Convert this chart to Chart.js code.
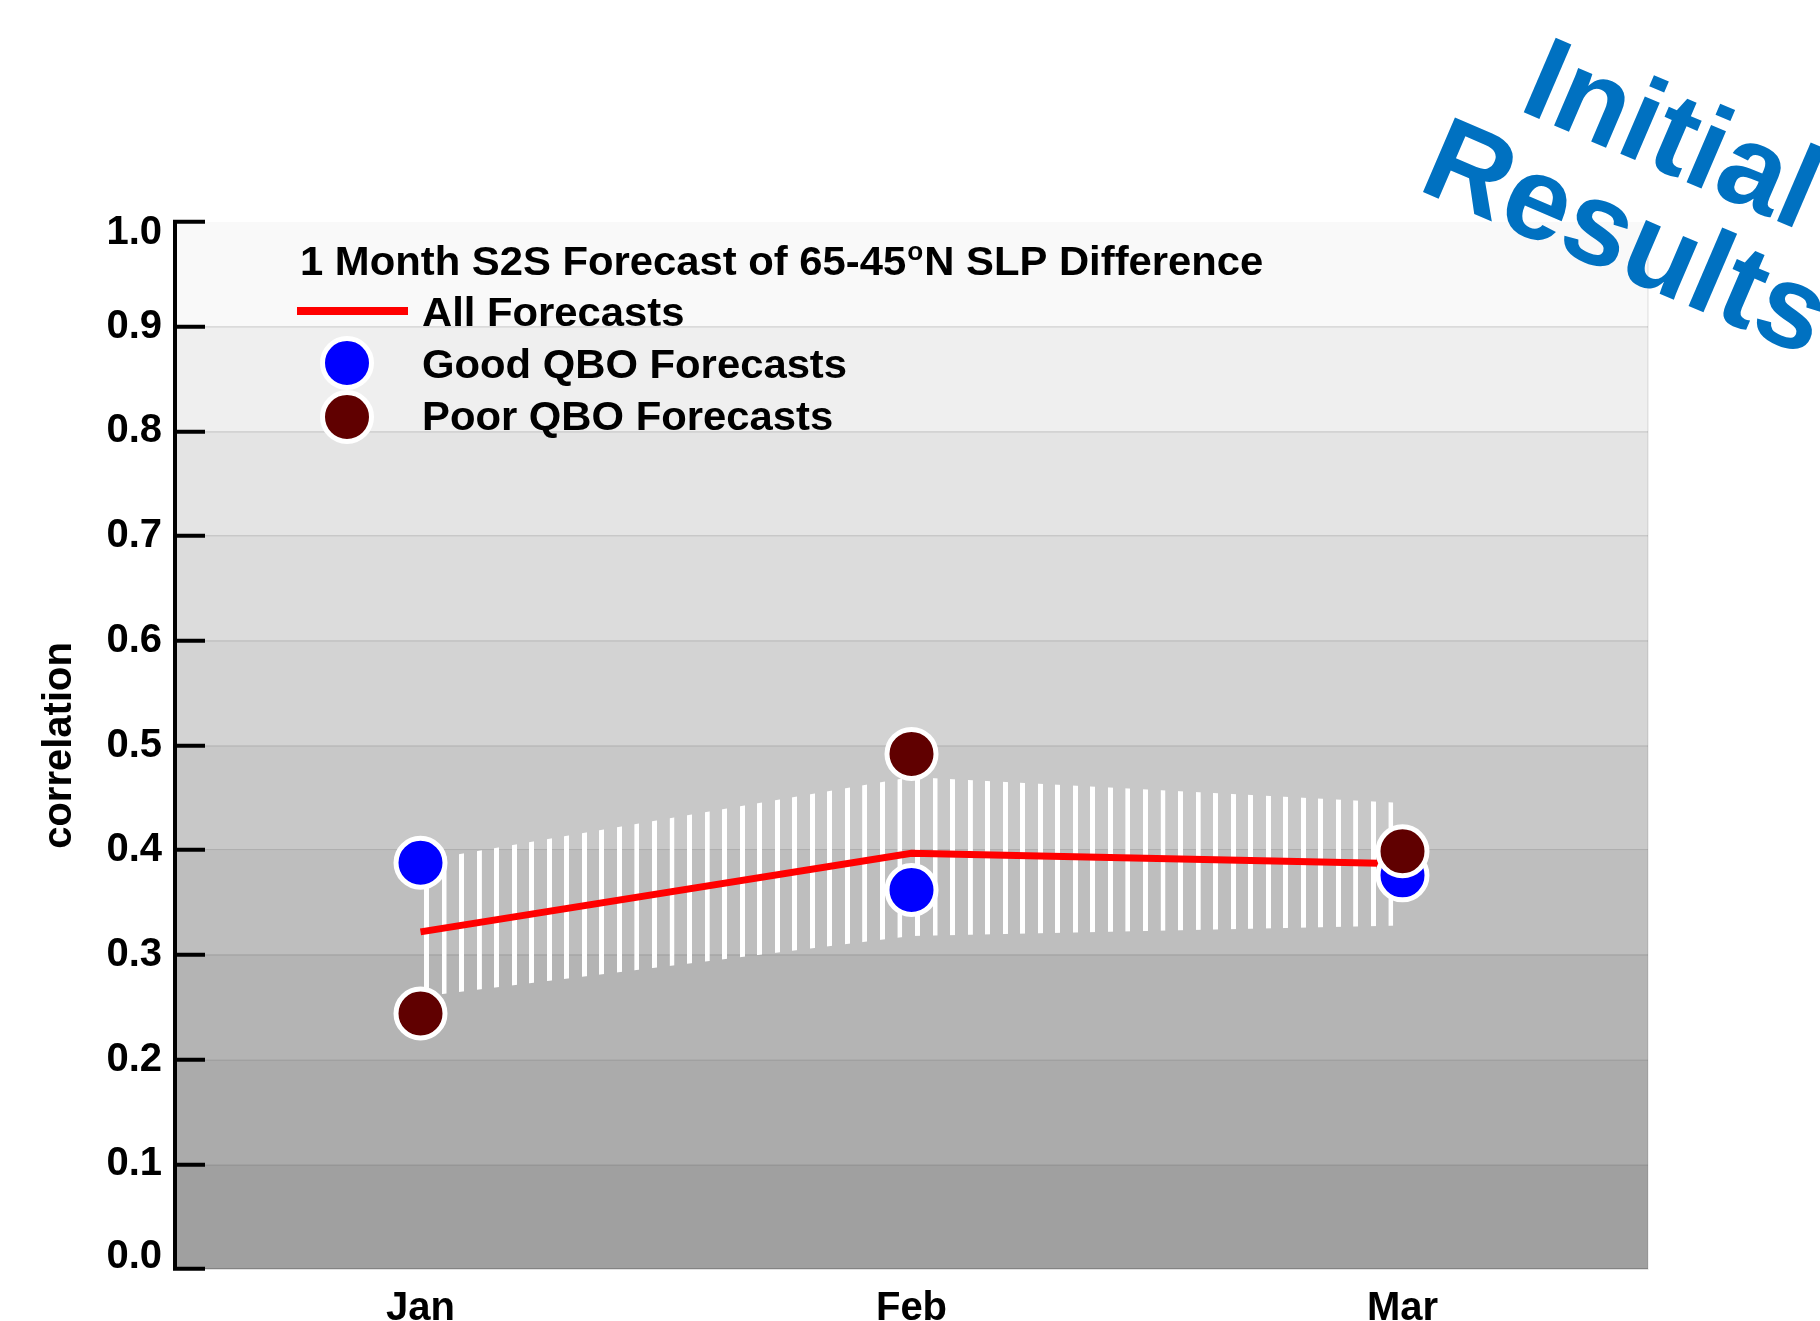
<!DOCTYPE html>
<html>
<head>
<meta charset="utf-8">
<script src="https://cdn.jsdelivr.net/npm/chart.js@4/dist/chart.umd.min.js"></script>
<style>
  html, body { margin: 0; padding: 0; background: #ffffff; }
  #wrap { width: 1820px; height: 1321px; position: relative; }
</style>
</head>
<body>
<div id="wrap"><canvas id="c"></canvas></div>
<script>
// ---------------- data ----------------
const categories   = ['Jan', 'Feb', 'Mar'];
const allForecasts = [0.322, 0.397, 0.387];
const goodQBO      = [0.388, 0.362, 0.376];
const poorQBO      = [0.244, 0.492, 0.399];
const rangeUpper   = [0.390, 0.470, 0.445];
const rangeLower   = [0.260, 0.318, 0.328];
const yTickValues  = [0.0, 0.1, 0.2, 0.3, 0.4, 0.5, 0.6, 0.7, 0.8, 0.9, 1.0];
const yTickLabels  = ['0.0', '0.1', '0.2', '0.3', '0.4', '0.5', '0.6', '0.7', '0.8', '0.9', '1.0'];
const bandGrays    = [160, 171, 180, 190, 200, 211, 220, 228, 239, 249];
const titleParts   = ['1 Month S2S Forecast of 65-45', 'o', 'N SLP Difference'];
const legendLabels = ['All Forecasts', 'Good QBO Forecasts', 'Poor QBO Forecasts'];
const yAxisTitle   = 'correlation';
const watermark    = ['Initial', 'Results'];

// ---------------- styles ----------------
const FONT = '"Liberation Sans", Arial, Helvetica, sans-serif';
const STRIPES_PER_MONTH = 28;
const STRIPE_SHIFT = 6;
const PAT_W = 100;

const patCanvas = document.createElement('canvas');
patCanvas.width = PAT_W; patCanvas.height = 4;
const pctx = patCanvas.getContext('2d');
pctx.fillStyle = '#ffffff';
pctx.fillRect(PAT_W / 2 - 14, 0, 28, 4);
const canvas = document.getElementById('c');
const stripePattern = canvas.getContext('2d').createPattern(patCanvas, 'repeat');

function stretchedText(ctx, text, x, y, sx) {
  ctx.save();
  ctx.translate(x, y);
  ctx.scale(sx, 1);
  ctx.fillText(text, 0, 0);
  const w = ctx.measureText(text).width * sx;
  ctx.restore();
  return w;
}

const decor = {
  id: 'decor',
  afterLayout(chart) {
    const xs = chart.scales.x;
    const x0 = xs.getPixelForValue(0);
    const step = (xs.getPixelForValue(1) - x0) / STRIPES_PER_MONTH;
    const s = step / PAT_W;
    stripePattern.setTransform(new DOMMatrix([s, 0, 0, 1, x0 + STRIPE_SHIFT - (PAT_W / 2) * s, 0]));
  },
  beforeDraw(chart) {
    const { ctx, chartArea: a, scales: { y } } = chart;
    ctx.save();
    bandGrays.forEach((g, i) => {
      const top = y.getPixelForValue(yTickValues[i + 1]);
      const bot = y.getPixelForValue(yTickValues[i]);
      ctx.fillStyle = `rgb(${g},${g},${g})`;
      ctx.fillRect(a.left, top, a.right - a.left, bot - top);
    });
    ctx.strokeStyle = 'rgba(0,0,0,0.06)';
    ctx.lineWidth = 2;
    ctx.beginPath();
    ctx.moveTo(a.right, a.top); ctx.lineTo(a.right, a.bottom); ctx.lineTo(a.left, a.bottom);
    ctx.stroke();
    ctx.restore();
  },
  afterDraw(chart) {
    const { ctx } = chart;
    const ds = chart.data.datasets;
    ctx.save();
    // title with superscript
    ctx.fillStyle = '#000';
    ctx.textBaseline = 'alphabetic';
    ctx.textAlign = 'left';
    let x = 300;
    const base = 275;
    const sx = 1.045;
    ctx.font = `bold 40px ${FONT}`;
    x += stretchedText(ctx, titleParts[0], x, base, sx) + 1;
    ctx.font = `bold 25px ${FONT}`;
    x += stretchedText(ctx, titleParts[1], x, base - 15, sx) + 1;
    ctx.font = `bold 40px ${FONT}`;
    stretchedText(ctx, titleParts[2], x, base, sx);

    // legend
    const lineDs = ds[2], goodDs = ds[1], poorDs = ds[0];
    ctx.strokeStyle = lineDs.borderColor;
    ctx.lineWidth = 8;
    ctx.beginPath(); ctx.moveTo(297, 311); ctx.lineTo(408, 311); ctx.stroke();
    const dot = (cx, cy, d) => {
      ctx.beginPath();
      ctx.arc(cx, cy, d.pointRadius, 0, Math.PI * 2);
      ctx.fillStyle = d.pointBackgroundColor; ctx.fill();
      ctx.lineWidth = d.pointBorderWidth; ctx.strokeStyle = d.pointBorderColor; ctx.stroke();
    };
    dot(347, 363, goodDs);
    dot(347, 417, poorDs);
    ctx.fillStyle = '#000';
    ctx.font = `bold 40px ${FONT}`;
    stretchedText(ctx, legendLabels[0], 422, 326, 1.045);
    stretchedText(ctx, legendLabels[1], 422, 378, 1.045);
    stretchedText(ctx, legendLabels[2], 422, 430, 1.045);

    // watermark
    ctx.fillStyle = '#0071c1';
    ctx.font = `bold 118px ${FONT}`;
    ctx.textAlign = 'center';
    const ang = 23.2 * Math.PI / 180;
    ctx.translate(1658, 170);
    ctx.rotate(ang);
    ctx.fillText(watermark[0], 0, 0);
    ctx.fillText(watermark[1], -2, 113);
    ctx.restore();
  }
};

new Chart(canvas, {
  type: 'line',
  data: {
    labels: categories,
    datasets: [
      { label: legendLabels[2], data: poorQBO, showLine: false, pointRadius: 24.5,
        pointBackgroundColor: '#600000', pointBorderColor: '#ffffff', pointBorderWidth: 5, order: 0 },
      { label: legendLabels[1], data: goodQBO, showLine: false, pointRadius: 24.5,
        pointBackgroundColor: '#0000ff', pointBorderColor: '#ffffff', pointBorderWidth: 5, order: 1 },
      { label: legendLabels[0], data: allForecasts, borderColor: '#ff0000', borderWidth: 7,
        pointRadius: 0, fill: false, tension: 0, order: 2 },
      { label: 'range upper', data: rangeUpper, borderColor: 'rgba(0,0,0,0)', borderWidth: 0,
        pointRadius: 0, fill: '+1', backgroundColor: stripePattern, order: 3 },
      { label: 'range lower', data: rangeLower, borderColor: 'rgba(0,0,0,0)', borderWidth: 0,
        pointRadius: 0, fill: false, order: 4 }
    ]
  },
  options: {
    responsive: true,
    maintainAspectRatio: false,
    animation: false,
    events: [],
    layout: { padding: { left: 36, top: 222, right: 172, bottom: 0 } },
    plugins: { legend: { display: false }, tooltip: { enabled: false } },
    scales: {
      x: {
        type: 'category',
        offset: true,
        grid: { display: false, drawTicks: false },
        border: { display: false },
        ticks: { color: '#000', padding: 16, font: { family: FONT, size: 40, weight: 'bold' } },
        afterFit: (s) => { s.height = 52; }
      },
      y: {
        min: 0, max: 1,
        afterBuildTicks: (s) => { s.ticks = yTickValues.map(v => ({ value: v })); },
        grid: {
          color: (c) => c.index === yTickValues.length - 1 ? 'rgba(0,0,0,0)' : 'rgba(0,0,0,0.12)',
          lineWidth: 1.5,
          drawTicks: true, tickLength: -30, tickColor: '#000', tickWidth: 4
        },
        border: { display: true, color: '#000', width: 4 },
        ticks: {
          color: '#000', padding: 43, autoSkip: false,
          callback: (v, i) => {
            const lbl = yTickLabels[i];
            if (i === yTickLabels.length - 1) return ['', lbl];
            if (i === 0) return [lbl, ''];
            return lbl;
          },
          font: (c) => ({ family: FONT, size: 40, weight: 'bold',
            lineHeight: (c.index === 0) ? '24px' : (c.index === yTickValues.length - 1 ? '22px' : 1.2) })
        },
        title: { display: true, text: yAxisTitle, color: '#000', padding: 0,
          font: { family: FONT, size: 40, weight: 'bold' } },
        afterFit: (s) => { s.width = 139; s.paddingTop = 0; s.paddingBottom = 0; }
      }
    }
  },
  plugins: [decor]
});
</script>
</body>
</html>
